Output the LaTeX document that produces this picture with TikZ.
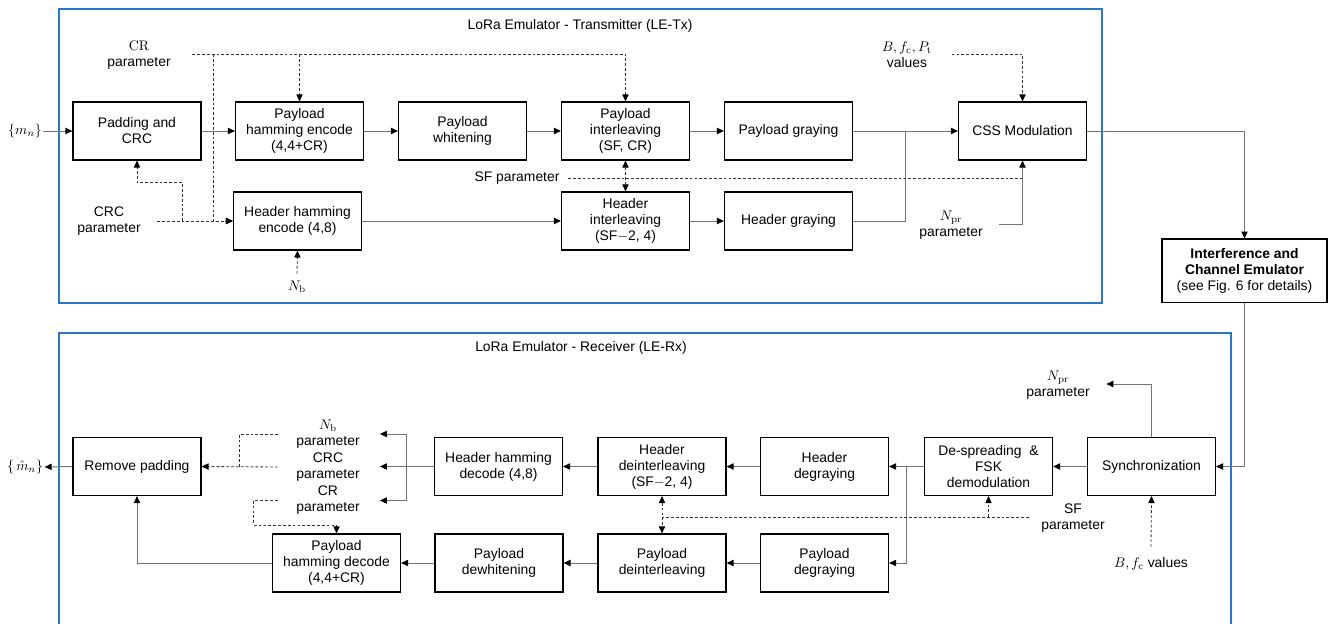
\documentclass[tikz,border=0pt]{standalone}
\usepackage{amsmath,amssymb}
\usepackage[no-math]{fontspec}
\setmainfont{Liberation Sans}
\usepackage{tikz}
\usetikzlibrary{arrows.meta,calc}
\definecolor{frameblue}{RGB}{40,120,200}

\begin{document}
\begin{tikzpicture}[x=0.72pt, y=-0.72pt,
  font=\fontsize{10}{11.5}\selectfont,
  blk/.style={draw, black, line width=0.8pt, minimum width=92.2pt, minimum height=41.8pt, align=center, inner sep=1pt},
  wideblk/.style={blk, minimum width=118.8pt, minimum height=46pt},
  lbl/.style={align=center, inner sep=1pt},
  ln/.style={black!55, line width=0.7pt, -{Triangle[length=5pt,width=4.5pt,color=black]}},
  lnn/.style={black!55, line width=0.7pt},
  dsh/.style={black!80, line width=0.6pt, dash pattern=on 2pt off 1.5pt, -{Triangle[length=5pt,width=4.5pt,color=black]}},
  dshn/.style={black!80, line width=0.6pt, dash pattern=on 2pt off 1.5pt},
  dshb/.style={dsh, {Triangle[length=5pt,width=4.5pt,color=black]}-{Triangle[length=5pt,width=4.5pt,color=black]}},
  frm/.style={frameblue, line width=1.2pt}]
  \useasboundingbox (0,0) rectangle (1333,624);

  % transmitter
  \draw[frm] (59,9) rectangle (1102,303);
  \node[lbl] (txtitle) at (580,26) {LoRa Emulator - Transmitter (LE-Tx)};
  \node[blk] (pad) at (137,131) {Padding and\\CRC};
  \node[blk] (phe) at (299.5,131) {Payload\\hamming encode\\(4,4+CR)};
  \node[blk] (pwh) at (462.5,131) {Payload\\whitening};
  \node[blk] (pil) at (625.5,131) {Payload\\interleaving\\(SF, CR)};
  \node[blk] (pgr) at (788.5,131) {Payload graying};
  \node[blk] (css) at (1022.5,131) {CSS Modulation};
  \node[blk] (hhe) at (297.5,221) {Header hamming\\encode (4,8)};
  \node[blk] (hil) at (625.5,221) {Header\\interleaving\\(SF$-$2, 4)};
  \node[blk] (hgr) at (788.5,221) {Header graying};
  \node[wideblk] (ice) at (1244.5,271) {\textbf{Interference and}\\\textbf{Channel Emulator}\\(see Fig. 6 for details)};

  \node[lbl] (mn) at (25,131) {$\{m_n\}$};
  \node[lbl] (crp) at (139,55) {$\mathrm{CR}$\\parameter};
  \node[lbl] (crcp) at (109,221) {CRC\\parameter};
  \node[lbl] (nbt) at (297,287) {$N_\mathrm{b}$};
  \node[lbl] (sfp) at (517,178) {SF parameter};
  \node[lbl] (bfp) at (907,55) {$B, f_\mathrm{c}, P_\mathrm{t}$\\values};
  \node[lbl] (nprt) at (951,225) {$N_\mathrm{pr}$\\parameter};
  \coordinate (jn) at ($(pgr.east)!.5!(css.west)$);

  \draw[ln] (mn) -- (pad);
  \draw[ln] (pad) -- (phe);
  \draw[ln] (phe) -- (pwh);
  \draw[ln] (pwh) -- (pil);
  \draw[ln] (pil) -- (pgr);
  \draw[ln] (pgr) -- (css);
  \draw[ln] (hhe) -- (hil);
  \draw[ln] (hil) -- (hgr);
  \draw[lnn] (hgr.east) -| (jn);
  \draw[ln] (css.east) -| (ice.north);

  \draw[dsh] ($(crp.east)+(20,-1)$) -| (pil.north);
  \draw[dsh] (phe.north |- crp.east) ++(0,-1) -- (phe.north);
  \draw[dsh] ($(crp.east)+(41,-1)$) |- (hhe.west);
  \draw[dsh] ($(crcp.east)+(15,0)$) -- (hhe.west);
  \draw[dsh] ($(crcp.east)+(40,0)$) |- ($(pad.south)+(0,22)$) -- (pad.south);
  \draw[dsh] ($(nbt.north)+(0,-6)$) -- (hhe.south);
  \draw[dshb] (pil.south) -- (hil.north);
  \draw[dshn] ($(sfp.east)+(7,0)$) -- (css.south |- sfp.east);
  \draw[dsh] ($(bfp.east)+(18,-1)$) -| (css.north);
  \draw[ln] ($(nprt.east)+(15,-1)$) -| (css.south);

  % receiver
  \draw[frm] (59,624) |- (1231,333) -- (1231,624);
  \node[lbl] (rxtitle) at (581,348) {LoRa Emulator - Receiver (LE-Rx)};
  \node[blk] (rmp) at (137,466.5) {Remove padding};
  \node[blk] (hhd) at (498.5,466.5) {Header hamming\\decode (4,8)};
  \node[blk] (hdi) at (662,466.5) {Header\\deinterleaving\\(SF$-$2, 4)};
  \node[blk] (hdg) at (824.5,466.5) {Header\\degraying};
  \node[blk] (dsp) at (988.5,466.5) {De-spreading\ \ \&\\FSK\\demodulation};
  \node[blk] (syn) at (1151.5,466.5) {Synchronization};
  \node[blk] (phd) at (336.5,563) {Payload\\hamming decode\\(4,4+CR)};
  \node[blk] (pdw) at (499,563) {Payload\\dewhitening};
  \node[blk] (pdi) at (662,563) {Payload\\deinterleaving};
  \node[blk] (pdg) at (824.5,563) {Payload\\degraying};

  \node[lbl] (mhat) at (25,467) {$\{\,\hat{m}_n\}$};
  \node[lbl] (nbr) at (328,434) {$N_\mathrm{b}$\\parameter};
  \node[lbl] (crcr) at (328,467) {CRC\\parameter};
  \node[lbl] (crr) at (328,500.5) {CR\\parameter};
  \node[lbl] (nprr) at (1058,385) {$N_\mathrm{pr}$\\parameter};
  \node[lbl] (sfr) at (1073,518.5) {SF\\parameter};
  \node[lbl] (bfr) at (1151,564) {$B, f_\mathrm{c}$ values};
  \coordinate (brk) at ($(hhd.west)+(-27,0)$);
  \coordinate (dsb) at ($(dsp.west)!.5!(hdg.east)$);

  \draw[ln] (ice.south) |- (syn.east);
  \draw[ln] (syn) -- (dsp);
  \draw[ln] (dsp.west) -- (hdg.east);
  \draw[ln] (dsb) |- (pdg.east);
  \draw[ln] (hdg) -- (hdi);
  \draw[ln] (hdi) -- (hhd);
  \draw[ln] (pdg) -- (pdi);
  \draw[ln] (pdi) -- (pdw);
  \draw[ln] (pdw) -- (phd);
  \draw[ln] (phd.west) -| (rmp.south);
  \draw[ln] (rmp.west) -- (mhat.east);
  \draw[ln] (syn.north) |- ($(nprr.east)+(15,-1)$);

  \draw[ln] (hhd.west) -- ($(brk)+(-27,0)$);
  \draw[lnn] (brk |- nbr) -- (brk |- crr);
  \draw[ln] (brk |- nbr) -- ($(brk |- nbr)+(-27,0)$);
  \draw[ln] (brk |- crr) -- ($(brk |- crr)+(-27,0)$);

  \draw[dsh] ($(crcr.west)+(-17,0)$) -- (rmp.east);
  \draw[dshn] ($(nbr.west)+(-17,0)$) -| ($(rmp.east)+(38,0)$);
  \draw[dsh] ($(crr.west)+(-17,0)$) -| ($(crr.west)+(-41,24.5)$) -| (phd.north);

  \draw[dshn] ($(sfr.west)+(-11,-1.5)$) -- ($(hdi.south |- sfr.west)+(0,-1.5)$);
  \draw[dsh] ($(dsp.south |- sfr.west)+(0,-1.5)$) -- (dsp.south);
  \draw[dshb] (hdi.south) -- (pdi.north);
  \draw[dsh] ($(bfr.north)+(0,-9)$) -- (syn.south);
\end{tikzpicture}
\end{document}
